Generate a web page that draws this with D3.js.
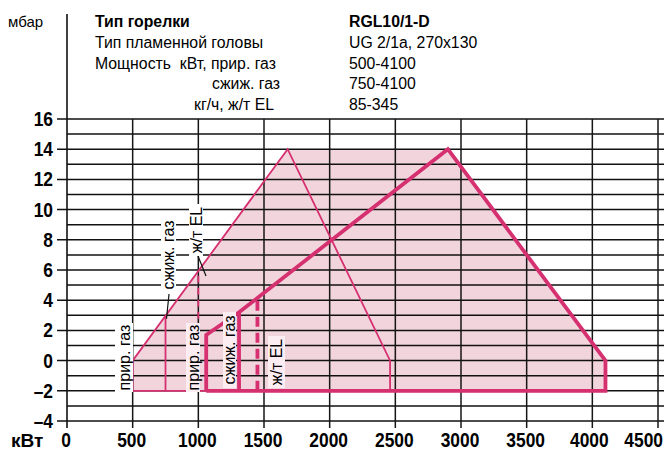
<!DOCTYPE html>
<html>
<head>
<meta charset="utf-8">
<script src="https://cdn.jsdelivr.net/npm/d3@7"></script>
<style>
body { margin: 0; background: #fff; }
svg { display: block; font-family: "Liberation Sans", Arial, sans-serif; }
text { white-space: pre; }
</style>
</head>
<body>
<div id="chart"></div>
<script>
var width = 664;
var height = 457;

var xTicks = [0, 500, 1000, 1500, 2000, 2500, 3000, 3500, 4000, 4500];
var yTicks = [-4, -2, 0, 2, 4, 6, 8, 10, 12, 14, 16];
var yGrid = [-4, -3, -2, -1, 0, 1, 2, 3, 4, 5, 6, 7, 8, 9, 10, 11, 12, 13, 14, 15, 16];

// field of operation (fill)
var envelope = [[500, -2], [500, 0], [1680, 14], [2900, 14], [4100, 0], [4100, -2]];
// thin curve: natural gas, with start points for LPG and oil
var natGas = [[500, -2], [500, 0], [1680, 14], [2460, 0], [2460, -2]];
var bottomLine = [[500, -2], [4100, -2]];
var lpgStart = [[750, -2], [750, 2.97]];
var oilStart = [[1000, -2], [1000, 5.93]];
// thick curve
var thickCurve = [[1060, -2], [1060, 1.7], [1310, 3.2], [2900, 14], [4100, 0], [4100, -2], [1060, -2]];
var thickLpg = [[1310, -2], [1310, 3.2]];
var thickOil = [[1450, -2], [1450, 4.1]];

var headLeft = ["Тип горелки", "Тип пламенной головы", "Мощность  кВт, прир. газ", "сжиж. газ", "кг/ч, ж/т EL"];
var headRight = ["RGL10/1-D", "UG 2/1a, 270x130", "500-4100", "750-4100", "85-345"];

var pink = "#d5306f";
var fillPink = "#f2d4dd";

var svg = d3.select("#chart")
            .append("svg")
            .attr("width", width)
            .attr("height", height);

var x = d3.scaleLinear().domain([0, 4500]).range([67, 658]);
var y = d3.scaleLinear().domain([-4, 16]).range([421, 119]);

var line = d3.line()
    .x(function(d) { return x(d[0]); })
    .y(function(d) { return y(d[1]); });

// fill
svg.append("path")
    .attr("d", line(envelope) + "Z")
    .attr("fill", fillPink);

// grid
svg.selectAll(".hgrid")
    .data(yGrid)
    .enter()
    .append("line")
    .attr("x1", function(d) { return d % 2 == 0 ? 57 : x(0); })
    .attr("x2", width)
    .attr("y1", function(d) { return y(d); })
    .attr("y2", function(d) { return y(d); })
    .attr("stroke", "#111")
    .attr("stroke-width", 1.5);

svg.selectAll(".vgrid")
    .data(xTicks.slice(1))
    .enter()
    .append("line")
    .attr("x1", function(d) { return x(d); })
    .attr("x2", function(d) { return x(d); })
    .attr("y1", y(16))
    .attr("y2", y(-4) + 7)
    .attr("stroke", "#161616")
    .attr("stroke-width", 1.5);

// y axis line
svg.append("line")
    .attr("x1", x(0)).attr("x2", x(0))
    .attr("y1", 14).attr("y2", y(-4) + 7)
    .attr("stroke", "#111")
    .attr("stroke-width", 1.6);

// tick labels
svg.selectAll(".ylab")
    .data(yTicks)
    .enter()
    .append("text")
    .attr("transform", function(d) { return "translate(53," + (y(d) + 7) + ") scale(0.87,1)"; })
    .attr("text-anchor", "end")
    .attr("font-size", 20)
    .attr("font-weight", "bold")
    .text(function(d) { return d < 0 ? "–" + (-d) : d; });

svg.selectAll(".xlab")
    .data(xTicks)
    .enter()
    .append("text")
    .attr("transform", function(d) {
        var px = d == 4500 ? 663 : x(d) - (d >= 4000 ? 3 : 1);
        return "translate(" + px + ",447) scale(0.87,1)";
    })
    .attr("text-anchor", function(d) { return d == 4500 ? "end" : "middle"; })
    .attr("font-size", 20)
    .attr("font-weight", "bold")
    .text(function(d) { return d; });

svg.append("text")
    .attr("x", 11).attr("y", 447)
    .attr("font-size", 19)
    .attr("font-weight", "bold")
    .text("кВт");

// header
svg.append("text")
    .attr("x", 8).attr("y", 27)
    .attr("font-size", 15)
    .text("мбар");

var headX = [95, 95, 95, 280, 274];
svg.selectAll(".hl")
    .data(headLeft)
    .enter()
    .append("text")
    .attr("x", function(d, i) { return headX[i]; })
    .attr("y", function(d, i) { return 27 + i * 20.8; })
    .attr("text-anchor", function(d, i) { return i >= 3 ? "end" : "start"; })
    .attr("font-size", 15.8)
    .attr("font-weight", function(d, i) { return i == 0 ? "bold" : "normal"; })
    .text(function(d) { return d; });

svg.selectAll(".hr")
    .data(headRight)
    .enter()
    .append("text")
    .attr("x", 349)
    .attr("y", function(d, i) { return 27 + i * 20.8; })
    .attr("font-size", 15.8)
    .attr("font-weight", function(d, i) { return i == 0 ? "bold" : "normal"; })
    .text(function(d) { return d; });

// thin lines
function thin(pts, dash) {
    svg.append("path")
        .attr("d", line(pts))
        .attr("fill", "none")
        .attr("stroke", pink)
        .attr("stroke-width", 1.8)
        .attr("stroke-dasharray", dash || null);
}
thin(natGas);
thin(bottomLine);
thin(lpgStart);
thin(oilStart, "7,5");

function thick(pts, dash) {
    svg.append("path")
        .attr("d", line(pts))
        .attr("fill", "none")
        .attr("stroke", pink)
        .attr("stroke-width", 3.8)
        .attr("stroke-linejoin", "miter")
        .attr("stroke-dasharray", dash || null);
}
thick(thickCurve);
thick(thickLpg);
thick(thickOil, "10,6");

// leaders
svg.append("line")
    .attr("x1", 169).attr("y1", 294)
    .attr("x2", x(750) + 1).attr("y2", y(2.97) + 3)
    .attr("stroke", "#111").attr("stroke-width", 1.2);
svg.append("line")
    .attr("x1", 198).attr("y1", 256)
    .attr("x2", 206).attr("y2", 276)
    .attr("stroke", "#111").attr("stroke-width", 1.2);

// rotated labels
var labels = [
    {t: "прир. газ", cx: 124, cy: 357.5, w: 18, h: 69, bg: "#fff"},
    {t: "сжиж. газ", cx: 168.5, cy: 255, w: 15, h: 78, bg: "#fff"},
    {t: "ж/т EL", cx: 196, cy: 230, w: 14, h: 52, bg: "#fff"},
    {t: "прир. газ", cx: 193, cy: 357.5, w: 14, h: 69, bg: "#fcedf2"},
    {t: "сжиж. газ", cx: 229.5, cy: 350, w: 13, h: 76, bg: "#fcedf2"},
    {t: "ж/т EL", cx: 276.5, cy: 362, w: 17, h: 52, bg: "#fcedf2"}
];
var lg = svg.selectAll(".lbl")
    .data(labels)
    .enter()
    .append("g")
    .attr("transform", function(d) { return "translate(" + d.cx + "," + d.cy + ")"; });
lg.append("rect")
    .attr("x", function(d) { return -d.w / 2; })
    .attr("y", function(d) { return -d.h / 2; })
    .attr("width", function(d) { return d.w; })
    .attr("height", function(d) { return d.h; })
    .attr("fill", function(d) { return d.bg; });
lg.append("text")
    .attr("transform", "rotate(-90)")
    .attr("text-anchor", "middle")
    .attr("dy", "0.36em")
    .attr("font-size", 16)
    .text(function(d) { return d.t; });
</script>
</body>
</html>
